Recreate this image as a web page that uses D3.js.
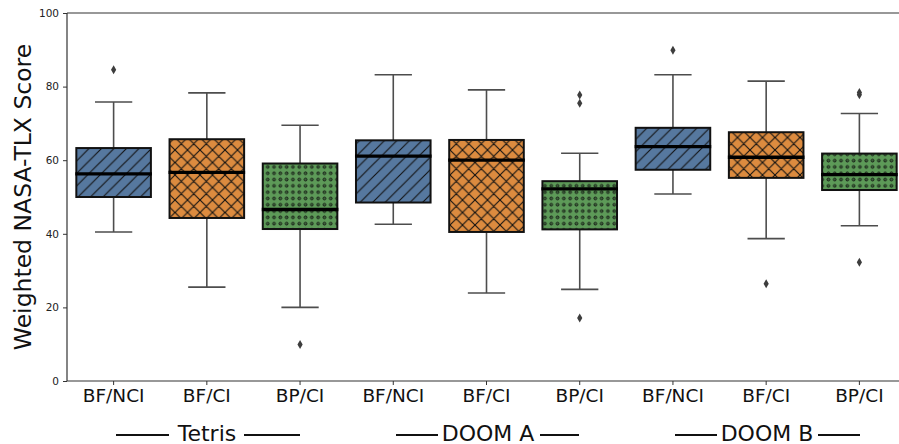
<!DOCTYPE html>
<html>
<head>
<meta charset="utf-8">
<script src="https://cdn.jsdelivr.net/npm/d3@7"></script>
<style>
  body { margin: 0; background: #fff; }
  text { font-family: "DejaVu Sans", sans-serif; }
</style>
</head>
<body>
<script>
// categories along the x axis, grouped by game
const conditions = ['BF/NCI', 'BF/CI', 'BP/CI'];
const games = ['Tetris', 'DOOM A', 'DOOM B'];

// box statistics per box, in game order then condition order
const whiskerLow  = [40.5, 25.5, 20.0, 42.6, 23.9, 24.9, 50.8, 38.7, 42.2];
const q1          = [50.0, 44.3, 41.3, 48.5, 40.5, 41.2, 57.4, 55.2, 51.9];
const medians     = [56.3, 56.7, 46.6, 61.1, 60.0, 52.2, 63.7, 60.8, 56.1];
const q3          = [63.3, 65.7, 59.1, 65.4, 65.5, 54.3, 68.8, 67.6, 61.8];
const whiskerHigh = [75.8, 78.3, 69.5, 83.2, 79.1, 61.9, 83.2, 81.5, 72.7];
const outliers    = [[84.6], [], [9.9], [], [], [77.7, 75.5, 17.1], [89.9], [26.4], [78.4, 77.8, 32.3]];

const yTicks = [0, 20, 40, 60, 80, 100];

const W = 899, H = 444;
const mLeft = 67, mTop = 13, mBottom = 381;

const svg = d3.select('body').append('svg')
  .attr('width', W)
  .attr('height', H);

const defs = svg.append('defs');
const colors = ['#56789f', '#dc8b3f', '#5d9a58'];

// hatch patterns: '/', 'x', 'o'
const p0 = defs.append('pattern').attr('id', 'hatch0')
  .attr('patternUnits', 'userSpaceOnUse').attr('width', 12.5).attr('height', 12.5);
p0.append('rect').attr('width', 12.5).attr('height', 12.5).attr('fill', colors[0]);
p0.append('path').attr('d', 'M-1,13.5L13.5,-1M-3,3L3,-3M9.5,15.5L15.5,9.5')
  .attr('stroke', '#111').attr('stroke-width', 1.1);

const p1 = defs.append('pattern').attr('id', 'hatch1')
  .attr('patternUnits', 'userSpaceOnUse').attr('width', 12.5).attr('height', 12.5);
p1.append('rect').attr('width', 12.5).attr('height', 12.5).attr('fill', colors[1]);
p1.append('path').attr('d', 'M-1,13.5L13.5,-1M-3,3L3,-3M9.5,15.5L15.5,9.5M-1,-1L13.5,13.5M-3,9.5L3,15.5M9.5,-3L15.5,3')
  .attr('stroke', '#111').attr('stroke-width', 1.1);

const p2 = defs.append('pattern').attr('id', 'hatch2')
  .attr('patternUnits', 'userSpaceOnUse').attr('width', 6.3).attr('height', 6.3);
p2.append('rect').attr('width', 6.3).attr('height', 6.3).attr('fill', colors[2]);
p2.append('circle').attr('cx', 3.15).attr('cy', 3.15).attr('r', 1.4)
  .attr('fill', '#3f6a3c').attr('stroke', '#111').attr('stroke-width', 0.9);

// scales
const labels = [];
games.forEach(g => conditions.forEach(c => labels.push(c)));
const idx = d3.range(labels.length);

const x = d3.scaleBand()
  .domain(idx)
  .range([mLeft, 906])
  .padding(0);

const y = d3.scaleLinear()
  .domain([0, 100])
  .range([mBottom, mTop]);

const boxW = x.bandwidth() * 0.8;
const capW = boxW / 2;
const cx = i => x(i) + x.bandwidth() / 2;

const plot = svg.append('g');

// whiskers
const boxes = plot.selectAll('.box')
  .data(idx)
  .enter().append('g')
  .attr('class', 'box');

boxes.append('line')
  .attr('x1', cx).attr('x2', cx)
  .attr('y1', i => y(whiskerLow[i])).attr('y2', i => y(q1[i]))
  .attr('stroke', '#4d4d4d').attr('stroke-width', 1.6);
boxes.append('line')
  .attr('x1', cx).attr('x2', cx)
  .attr('y1', i => y(q3[i])).attr('y2', i => y(whiskerHigh[i]))
  .attr('stroke', '#4d4d4d').attr('stroke-width', 1.6);
boxes.append('line')
  .attr('x1', i => cx(i) - capW / 2).attr('x2', i => cx(i) + capW / 2)
  .attr('y1', i => y(whiskerLow[i])).attr('y2', i => y(whiskerLow[i]))
  .attr('stroke', '#4d4d4d').attr('stroke-width', 1.6);
boxes.append('line')
  .attr('x1', i => cx(i) - capW / 2).attr('x2', i => cx(i) + capW / 2)
  .attr('y1', i => y(whiskerHigh[i])).attr('y2', i => y(whiskerHigh[i]))
  .attr('stroke', '#4d4d4d').attr('stroke-width', 1.6);

// boxes
boxes.append('rect')
  .attr('x', i => cx(i) - boxW / 2)
  .attr('width', boxW)
  .attr('y', i => y(q3[i]))
  .attr('height', i => y(q1[i]) - y(q3[i]))
  .attr('fill', i => `url(#hatch${i % 3})`)
  .attr('stroke', '#111')
  .attr('stroke-width', 2);

// medians
boxes.append('line')
  .attr('x1', i => cx(i) - boxW / 2 - 1)
  .attr('x2', i => cx(i) + boxW / 2 + 1)
  .attr('y1', i => y(medians[i])).attr('y2', i => y(medians[i]))
  .attr('stroke', '#000').attr('stroke-width', 3.3);

// outliers as thin diamonds
const fliers = [];
outliers.forEach((vals, i) => vals.forEach(v => fliers.push({i, v})));
plot.selectAll('.flier')
  .data(fliers)
  .enter().append('path')
  .attr('class', 'flier')
  .attr('transform', d => `translate(${cx(d.i)},${y(d.v)})`)
  .attr('d', 'M0,-4.5L2.6,0L0,4.5L-2.6,0Z')
  .attr('fill', '#3d3d3d');

// axes
const yAxis = svg.append('g')
  .attr('transform', `translate(${mLeft},0)`)
  .call(d3.axisLeft(y).tickValues(yTicks).tickSize(4).tickPadding(4));
yAxis.select('.domain').remove();
yAxis.selectAll('line').attr('stroke', '#333');
yAxis.selectAll('text').style('font-family', 'DejaVu Sans').style('font-size', '10.5px').attr('fill', '#222');

const xAxis = svg.append('g')
  .attr('transform', `translate(0,${mBottom})`)
  .call(d3.axisBottom(x).tickFormat(i => labels[i]).tickSize(4).tickPadding(4));
xAxis.select('.domain').remove();
xAxis.selectAll('line').attr('stroke', '#333');
xAxis.selectAll('text').style('font-family', 'DejaVu Sans').style('font-size', '18.5px').attr('fill', '#111');

// spines
svg.append('line').attr('x1', mLeft).attr('x2', mLeft).attr('y1', mTop).attr('y2', mBottom)
  .attr('stroke', '#333').attr('stroke-width', 1.2);
svg.append('line').attr('x1', mLeft).attr('x2', W).attr('y1', mBottom).attr('y2', mBottom)
  .attr('stroke', '#333').attr('stroke-width', 1.2);
svg.append('line').attr('x1', mLeft).attr('x2', W).attr('y1', mTop).attr('y2', mTop)
  .attr('stroke', '#333').attr('stroke-width', 1.2);

// y label
svg.append('text')
  .attr('transform', `translate(31,${(mTop + mBottom) / 2}) rotate(-90)`)
  .attr('text-anchor', 'middle')
  .style('font-size', '23.5px')
  .attr('fill', '#111')
  .text('Weighted NASA-TLX Score');

// group labels with lines either side
const groupSpecs = [
  {name: games[0], l1: [116, 169], l2: [244, 300], tx: 207},
  {name: games[1], l1: [396, 438], l2: [540, 579], tx: 488},
  {name: games[2], l1: [675, 717], l2: [818, 860], tx: 767}
];
const grp = svg.append('g');
groupSpecs.forEach(g => {
  grp.append('line').attr('x1', g.l1[0]).attr('x2', g.l1[1]).attr('y1', 435).attr('y2', 435)
    .attr('stroke', '#111').attr('stroke-width', 1.8);
  grp.append('line').attr('x1', g.l2[0]).attr('x2', g.l2[1]).attr('y1', 435).attr('y2', 435)
    .attr('stroke', '#111').attr('stroke-width', 1.8);
  grp.append('text').attr('x', g.tx).attr('y', 441)
    .attr('text-anchor', 'middle')
    .style('font-size', '22px')
    .attr('fill', '#111')
    .text(g.name);
});
</script>
</body>
</html>
